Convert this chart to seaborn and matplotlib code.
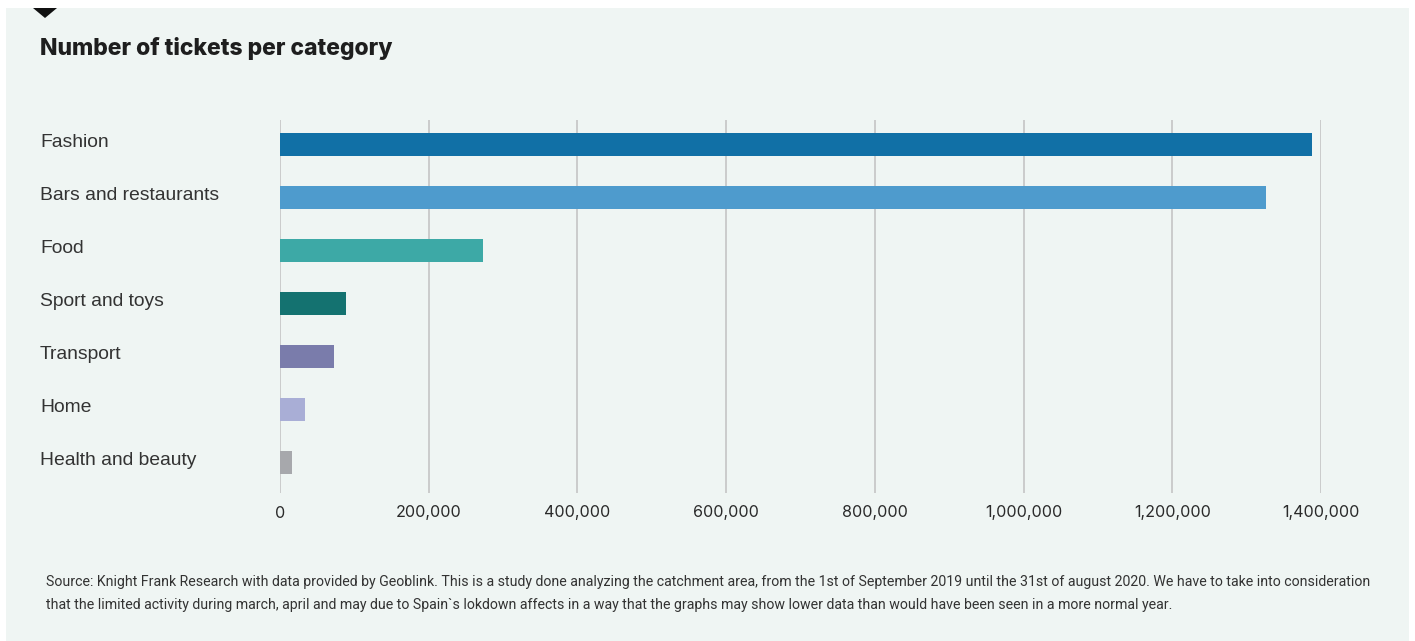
import matplotlib
matplotlib.use("Agg")
import matplotlib.pyplot as plt
import matplotlib.patches as mpatches
import seaborn as sns
import pandas as pd

categories = ["Fashion", "Bars and restaurants", "Food", "Sport and toys",
              "Transport", "Home", "Health and beauty"]
tickets = [1388000, 1326000, 273000, 88800, 72600, 33600, 16100]
bar_colors = ["#1170a6", "#4e9bcd", "#3da9a6", "#147270",
              "#7a7cab", "#a9aed6", "#a7a8ac"]
x_ticks = [0, 200000, 400000, 600000, 800000, 1000000, 1200000, 1400000]

title = "Number of tickets per category"
note_lines = [
    "Source: Knight Frank Research with data provided by Geoblink. This is a study done analyzing the catchment area, "
    "from the 1st of September 2019 until the 31st of august 2020. We have to take into consideration",
    "that the limited activity during march, april and may due to Spain`s lokdown affects in a way that the graphs "
    "may show lower data than would have been seen in a more normal year.",
]

W, H = 1415, 641
panel_bg = "#eff5f3"

sns.set_theme(style="white")
plt.rcParams["font.family"] = ["Liberation Sans", "DejaVu Sans"]

fig = plt.figure(figsize=(W / 100, H / 100), dpi=100)
fig.patch.set_facecolor("white")

# mint background panel + little black triangle marker
fig.patches.append(mpatches.Rectangle((6 / W, 0), (1409 - 6) / W, (H - 8) / H,
                                      transform=fig.transFigure, facecolor=panel_bg,
                                      edgecolor="none", zorder=-10))
fig.patches.append(mpatches.Polygon([(33 / W, 1 - 8 / H), (57 / W, 1 - 8 / H), (45 / W, 1 - 18 / H)],
                                    closed=True, transform=fig.transFigure,
                                    facecolor="#111111", edgecolor="none", zorder=5))

ax = fig.add_axes([280 / W, 1 - 493 / H, (1321 - 280) / W, (493 - 120) / H])
ax.set_facecolor("none")

df = pd.DataFrame({"category": categories, "tickets": tickets})
sns.barplot(data=df, x="tickets", y="category", hue="category", palette=bar_colors,
            order=categories, hue_order=categories, orient="h", width=0.45,
            legend=False, ax=ax, saturation=1, zorder=3, linewidth=0)

ax.set_xlim(0, 1400000)
ax.set_ylim(6.575, -0.462)
ax.set_xticks(x_ticks)
ax.set_xticklabels([f"{v:,}" for v in x_ticks], fontsize=11.6, color="#2a2a2a",
                   family=["Inter", "DejaVu Sans"])
# labels sit a touch above the bar centre
ax.set_yticks([i - 0.075 for i in range(len(categories))], categories)
ax.xaxis.grid(True, color="#c8c8c8", linewidth=1.3, zorder=0)
ax.yaxis.grid(False)
for s in ax.spines.values():
    s.set_visible(False)
ax.tick_params(axis="x", length=0, pad=9)
ax.tick_params(axis="y", length=0, pad=(280 - 40) * 0.72)
for lab in ax.get_yticklabels():
    lab.set_horizontalalignment("left")
    lab.set_fontsize(13.9)
    lab.set_color("#333333")
ax.set_xlabel("")
ax.set_ylabel("")

fig.text(40 / W, 1 - 55 / H, title, fontsize=16.5, fontweight="heavy", color="#1e1e1e",
         family=["Inter", "DejaVu Sans"], ha="left", va="baseline")
for i, line in enumerate(note_lines):
    fig.text(46 / W, 1 - (586 + 22.5 * i) / H, line, fontsize=10.2, color="#333333",
             family=["Roboto", "DejaVu Sans"], ha="left", va="baseline")

fig.savefig("out.png", dpi=100, facecolor="white")
